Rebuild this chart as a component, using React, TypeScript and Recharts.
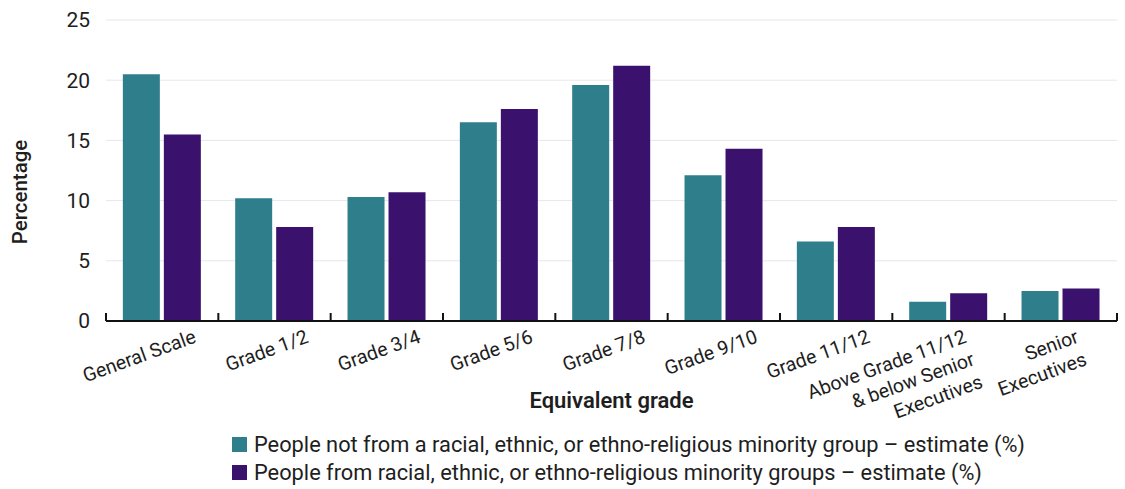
import { BarChart, Bar, XAxis, YAxis, CartesianGrid, Legend } from "recharts"

const categories = [
    "General Scale",
    "Grade 1/2",
    "Grade 3/4",
    "Grade 5/6",
    "Grade 7/8",
    "Grade 9/10",
    "Grade 11/12",
    "Above Grade 11/12 & below Senior Executives",
    "Senior Executives",
]

// how each category label wraps under the axis
const categoryLines = [
    ["General Scale"],
    ["Grade 1/2"],
    ["Grade 3/4"],
    ["Grade 5/6"],
    ["Grade 7/8"],
    ["Grade 9/10"],
    ["Grade 11/12"],
    ["Above Grade 11/12", "& below Senior", "Executives"],
    ["Senior", "Executives"],
]

const notMinority = [20.5, 10.2, 10.3, 16.5, 19.6, 12.1, 6.6, 1.6, 2.5]
const minority = [15.5, 7.8, 10.7, 17.6, 21.2, 14.3, 7.8, 2.3, 2.7]

const yTicks = [0, 5, 10, 15, 20, 25]

const series = [
    { key: "notMinority", label: "People not from a racial, ethnic, or ethno-religious minority group \u2013 estimate (%)", color: "#2e7f8b" },
    { key: "minority", label: "People from racial, ethnic, or ethno-religious minority groups \u2013 estimate (%)", color: "#3a126d" },
]

const data = categories.map((name, i) => ({
    name,
    notMinority: notMinority[i],
    minority: minority[i],
}))

const W = 1125
const H = 489
const margin = { top: 20, right: 8, left: 0, bottom: 68 }
const Y_AXIS_W = 106
const PLOT_W = W - margin.left - margin.right - Y_AXIS_W
const FONT = "Roboto, 'Noto Sans', sans-serif"
const TEXT = "#1e1e1e"

function CategoryTick(props: any) {
    const { x, y, index } = props
    const half = PLOT_W / categories.length / 2
    const lines = categoryLines[index] ?? [String(props.payload?.value)]
    const dx = lines.length > 1 ? 19 : 35
    return (
        <g>
            <line x1={x - half} x2={x - half} y1={y - 8} y2={y} stroke="#111" strokeWidth={2} />
            {index === categories.length - 1 && (
                <line x1={x + half} x2={x + half} y1={y - 8} y2={y} stroke="#111" strokeWidth={2} />
            )}
            <g transform={`translate(${x + dx},${y + 21}) rotate(-20)`}>
                {lines.map((l, i) => (
                    <text key={i} x={0} y={i * 24} textAnchor="end" fontSize={19.5} fontFamily={FONT} fill={TEXT}>
                        {l}
                    </text>
                ))}
            </g>
        </g>
    )
}

// legend keeps the series order rather than Recharts' sorted payload
function LegendBox() {
    return (
        <div style={{ fontFamily: FONT, fontSize: 21.8, color: TEXT }}>
            {series.map((s) => (
                <div key={s.key} style={{ display: "flex", alignItems: "center", height: 28, whiteSpace: "nowrap" }}>
                    <span style={{ display: "inline-block", width: 15, height: 15, background: s.color, marginRight: 7 }} />
                    <span>{s.label}</span>
                </div>
            ))}
        </div>
    )
}

export default function App() {
    return (
        <div style={{ position: "absolute", left: 0, top: 0, width: W, height: H, background: "#fff" }}>
            <BarChart width={W} height={H} data={data} margin={margin} barCategoryGap="15%" barGap={4}>
                <CartesianGrid stroke="#e6e7ee" vertical={false} />
                <XAxis
                    dataKey="name"
                    height={100}
                    interval={0}
                    tickSize={0}
                    tickMargin={0}
                    tickLine={false}
                    axisLine={{ stroke: "#111", strokeWidth: 2 }}
                    tick={<CategoryTick />}
                    label={{
                        position: "insideBottom",
                        content: (p: any) => {
                            const vb = p.viewBox ?? { x: Y_AXIS_W, y: 321, width: PLOT_W, height: 100 }
                            return (
                                <text x={vb.x + vb.width / 2} y={vb.y + 87} textAnchor="middle" fontSize={22} fontWeight={600} fontFamily={FONT} fill={TEXT}>
                                    Equivalent grade
                                </text>
                            )
                        },
                    }}
                />
                <YAxis
                    width={Y_AXIS_W}
                    domain={[0, 25]}
                    ticks={yTicks}
                    axisLine={false}
                    tickLine={false}
                    tickSize={0}
                    tickMargin={16}
                    tick={{ fontSize: 21, fill: TEXT, fontFamily: FONT }}
                    label={{
                        position: "insideLeft",
                        content: () => (
                            <text x={20} y={192} transform="rotate(-90 20 192)" textAnchor="middle" dominantBaseline="central" fontSize={20.5} fontWeight={500} fontFamily={FONT} fill={TEXT}>
                                Percentage
                            </text>
                        ),
                    }}
                />
                <Legend
                    verticalAlign="middle"
                    align="center"
                    layout="horizontal"
                    wrapperStyle={{ top: 430, left: 232, width: 880 }}
                    content={<LegendBox />}
                />
                {series.map((s) => (
                    <Bar key={s.key} dataKey={s.key} name={s.label} fill={s.color} isAnimationActive={false} />
                ))}
            </BarChart>
        </div>
    )
}
